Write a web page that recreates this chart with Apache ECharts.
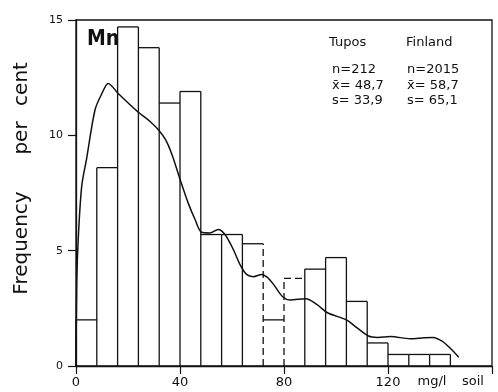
<!DOCTYPE html>
<html>
<head>
<meta charset="utf-8">
<script src="https://cdn.jsdelivr.net/npm/echarts@6/dist/echarts.min.js"></script>
<style>
  html, body { margin: 0; padding: 0; background: #fff; }
  #chart { width: 498px; height: 392px; }
</style>
</head>
<body>
<div id="chart"></div>
<script>
// Mn in soil (mg/l): histogram of the Tupos samples with the smoothed Finland-wide curve
const binWidth = 8;
const binStarts = [0, 8, 16, 24, 32, 40, 48, 56, 64, 72, 80, 88, 96, 104, 112, 120, 128, 136];
const binFreq = [2.0, 8.6, 14.7, 13.8, 11.4, 11.9, 5.7, 5.7, 5.3, 2.0, 3.8, 4.2, 4.7, 2.8, 1.0, 0.5, 0.5, 0.5];
// bin edges (by left edge value) and bin tops drawn with a broken line
const dashedEdges = [72, 80];
const dashedTops = [80];

// smoothed frequency curve (Finland), x in mg/l, y in per cent
const curveX = [0, 0.3, 0.9, 2.2, 4.1, 7.3, 9.9, 12.4, 16.3, 20.1, 24, 28.5, 32, 34.5, 36.8, 40, 43.2, 45.8, 48.3, 51.5, 54.7, 57.3, 60.5, 63.3, 65.6, 68.2, 71.5, 73.5, 75.9, 79.5, 82.3, 88.4, 92.6, 96.7, 104, 108, 112.5, 116, 121, 128.5, 134, 137.4, 140.8, 143.5, 147.2];
const curveY = [0, 3.7, 5.6, 7.8, 9.0, 11.1, 11.8, 12.25, 11.8, 11.4, 11.0, 10.6, 10.2, 9.8, 9.2, 8.1, 7.05, 6.35, 5.8, 5.77, 5.92, 5.7, 5.05, 4.35, 3.97, 3.87, 3.97, 3.85, 3.55, 3.0, 2.86, 2.92, 2.67, 2.31, 2.0, 1.66, 1.3, 1.24, 1.28, 1.18, 1.23, 1.24, 1.08, 0.82, 0.38];

const xTicks = { min: 0, max: 160, interval: 40 };
const yTicks = { min: 0, max: 15, interval: 5 };

const ink = '#111';
const font = 'DejaVu Sans';

const histData = binStarts.map((s, i) => [s, s + binWidth, binFreq[i]]);
const curveData = curveX.map((x, i) => [x, curveY[i]]);

function seg(a, b, dashed) {
  return {
    type: 'line',
    shape: { x1: a[0], y1: a[1], x2: b[0], y2: b[1] },
    style: { stroke: ink, lineWidth: 1.3, lineDash: dashed ? [7, 4] : null }
  };
}

const chart = echarts.init(document.getElementById('chart'), null, { renderer: 'canvas' });

chart.setOption({
  animation: false,
  backgroundColor: '#fff',
  grid: {
    left: 76, right: 6, top: 20, bottom: 26,
    show: true, borderColor: ink, borderWidth: 1.3, backgroundColor: 'transparent'
  },
  xAxis: {
    type: 'value',
    min: xTicks.min, max: xTicks.max, interval: xTicks.interval,
    axisLine: { show: true, lineStyle: { color: ink, width: 1.3 } },
    axisTick: { show: true, length: 8, lineStyle: { color: ink, width: 1.2 } },
    axisLabel: {
      color: ink, fontFamily: font, fontSize: 13, margin: 10,
      formatter: v => (v === xTicks.max ? '' : String(v))
    },
    splitLine: { show: false }
  },
  yAxis: {
    type: 'value',
    min: yTicks.min, max: yTicks.max, interval: yTicks.interval,
    axisLine: { show: true, lineStyle: { color: ink, width: 1.3 } },
    axisTick: { show: true, length: 8, lineStyle: { color: ink, width: 1.2 } },
    axisLabel: { color: ink, fontFamily: font, fontSize: 11, margin: 13 },
    splitLine: { show: false }
  },
  series: [
    {
      type: 'custom',
      name: 'Tupos',
      data: histData,
      encode: { x: [0, 1], y: 2 },
      renderItem: (params, api) => {
        const i = params.dataIndex;
        const x0 = api.value(0), x1 = api.value(1), h = api.value(2);
        const prevH = i > 0 ? histData[i - 1][2] : 0;
        const children = [
          // left edge up to the taller of the two neighbouring bins
          seg(api.coord([x0, 0]), api.coord([x0, Math.max(h, prevH)]), dashedEdges.indexOf(x0) >= 0),
          // bin top
          seg(api.coord([x0, h]), api.coord([x1, h]), dashedTops.indexOf(x0) >= 0)
        ];
        if (i === histData.length - 1) {
          children.push(seg(api.coord([x1, 0]), api.coord([x1, h]), false));
        }
        return { type: 'group', children };
      },
      z: 2
    },
    {
      type: 'line',
      name: 'Finland',
      data: curveData,
      smooth: 0.3,
      showSymbol: false,
      lineStyle: { color: ink, width: 1.5 },
      z: 3
    }
  ],
  graphic: [
    // y axis title
    {
      type: 'group', x: 22, y: 185, rotation: Math.PI / 2,
      children: [
        { type: 'text', x: -58, y: 0, style: { text: 'Frequency', font: '20px ' + font, fill: ink, align: 'center', verticalAlign: 'middle' } },
        { type: 'text', x: 47, y: 0, style: { text: 'per', font: '20px ' + font, fill: ink, align: 'center', verticalAlign: 'middle' } },
        { type: 'text', x: 101, y: 0, style: { text: 'cent', font: '20px ' + font, fill: ink, align: 'center', verticalAlign: 'middle' } }
      ]
    },
    // element symbol
    { type: 'text', x: 87, y: 40, style: { text: 'Mn', font: 'bold 21px "DejaVu Sans Condensed", ' + font, fill: ink, align: 'left', verticalAlign: 'middle' } },
    // statistics block
    { type: 'text', x: 329, y: 43, style: { text: 'Tupos', font: '13px ' + font, fill: ink, verticalAlign: 'middle' } },
    { type: 'text', x: 406, y: 43, style: { text: 'Finland', font: '13px ' + font, fill: ink, verticalAlign: 'middle' } },
    { type: 'text', x: 332, y: 70, style: { text: 'n=212', font: '13px ' + font, fill: ink, verticalAlign: 'middle' } },
    { type: 'text', x: 332, y: 86, style: { text: 'x\u0304= 48,7', font: '13px ' + font, fill: ink, verticalAlign: 'middle' } },
    { type: 'text', x: 332, y: 101, style: { text: 's= 33,9', font: '13px ' + font, fill: ink, verticalAlign: 'middle' } },
    { type: 'text', x: 407, y: 70, style: { text: 'n=2015', font: '13px ' + font, fill: ink, verticalAlign: 'middle' } },
    { type: 'text', x: 407, y: 86, style: { text: 'x\u0304= 58,7', font: '13px ' + font, fill: ink, verticalAlign: 'middle' } },
    { type: 'text', x: 407, y: 101, style: { text: 's= 65,1', font: '13px ' + font, fill: ink, verticalAlign: 'middle' } },
    // unit under the x axis
    { type: 'text', x: 432, y: 382, style: { text: 'mg/l', font: '13px ' + font, fill: ink, align: 'center', verticalAlign: 'middle' } },
    { type: 'text', x: 473, y: 382, style: { text: 'soil', font: '13px ' + font, fill: ink, align: 'center', verticalAlign: 'middle' } }
  ]
});
</script>
</body>
</html>
